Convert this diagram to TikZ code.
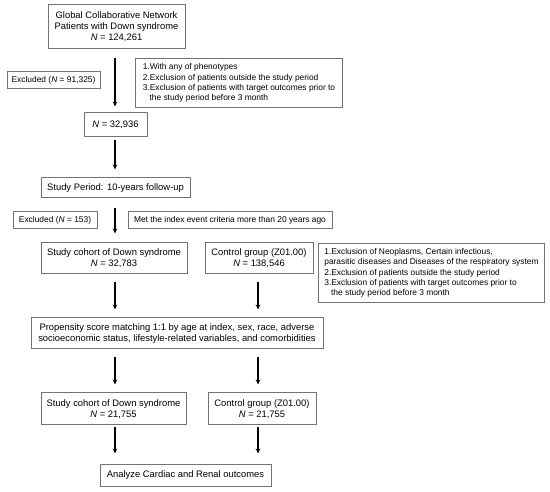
\documentclass[tikz,border=0pt]{standalone}
\usepackage{fontspec}
\setmainfont{Liberation Sans}
\usetikzlibrary{arrows.meta}
\tikzset{
  box/.style={draw=black!55, line width=1pt, inner sep=0pt, align=center,
    font=\fontsize{9.4}{11}\selectfont},
  sbox/.style={box, font=\fontsize{8.4}{10}\selectfont},
  lbox/.style={box, align=left, anchor=north west, inner xsep=3pt,
    font=\fontsize{8.4}{10.2}\selectfont},
  arr/.style={line width=1.5pt, -{Stealth[length=5pt,width=4.5pt]}}
}
\begin{document}
\begin{tikzpicture}[x=1pt,y=-1pt]
\useasboundingbox (0,0) rectangle (550,492);
\coordinate (colL) at (115,0);
\coordinate (colR) at (258,0);
\node[box, minimum width=137pt, minimum height=44pt] (g) at (116.5,27) {Global Collaborative Network\\Patients with Down syndrome\\\textit{N} = 124,261};
\node[sbox, minimum width=93pt, minimum height=17pt] (ex1) at (53.5,80.5) {Excluded (\textit{N} = 91,325)};
\node[lbox, minimum width=207pt, minimum height=49pt] (c1) at (135,58) {1.With any of phenotypes\\2.Exclusion of patients outside the study period\\3.Exclusion of patients with target outcomes prior to\\\hspace*{0.8em}the study period before 3 month};
\node[box, minimum width=63pt, minimum height=24pt] (n2) at (115.5,125) {\textit{N} = 32,936};
\node[box, minimum width=149pt, minimum height=20pt] (sp) at (115.5,188) {Study Period: 10-years follow-up};
\node[sbox, minimum width=84pt, minimum height=17pt] (ex2) at (55,220.5) {Excluded (\textit{N} = 153)};
\node[sbox, minimum width=204pt, minimum height=17pt] (met) at (230,220.5) {Met the index event criteria more than 20 years ago};
\node[box, minimum width=146pt, minimum height=31pt] (sc1) at (114,258.5) {Study cohort of Down syndrome\\\textit{N} = 32,783};
\node[box, minimum width=108pt, minimum height=31pt] (cg1) at (259,258.5) {Control group (Z01.00)\\\textit{N} = 138,546};
\node[lbox, minimum width=226pt, minimum height=59pt, inner xsep=5pt] (c2) at (318,243) {1.Exclusion of Neoplasms, Certain infectious,\\parasitic diseases and Diseases of the respiratory system\\2.Exclusion of patients outside the study period\\3.Exclusion of patients with target outcomes prior to\\\hspace*{0.8em}the study period before 3 month};
\node[box, minimum width=292pt, minimum height=31pt] (ps) at (177,333.5) {Propensity score matching 1:1 by age at index, sex, race, adverse\\socioeconomic status, lifestyle-related variables, and comorbidities};
\node[box, minimum width=145pt, minimum height=32pt] (sc2) at (113.5,409) {Study cohort of Down syndrome\\\textit{N} = 21,755};
\node[box, minimum width=108pt, minimum height=32pt] (cg2) at (262,409) {Control group (Z01.00)\\\textit{N} = 21,755};
\node[box, minimum width=171pt, minimum height=21pt] (an) at (185.5,475.5) {Analyze Cardiac and Renal outcomes};
% arrows
\draw[arr] ([yshift=-9pt]g.south -| colL) -- ([yshift=6pt]n2.north -| colL);
\draw[arr] ([yshift=-3pt]n2.south -| colL) -- ([yshift=8pt]sp.north -| colL);
\draw[arr] ([yshift=-10pt]sp.south -| colL) -- ([yshift=9pt]sc1.north -| colL);
\draw[arr] ([yshift=-8pt]sc1.south -| colL) -- ([yshift=8pt]ps.north -| colL);
\draw[arr] ([yshift=-8pt]cg1.south -| colR) -- ([yshift=8pt]ps.north -| colR);
\draw[arr] ([yshift=-8pt]ps.south -| colL) -- ([yshift=8pt]sc2.north -| colL);
\draw[arr] ([yshift=-8pt]ps.south -| colR) -- ([yshift=8pt]cg2.north -| colR);
\draw[arr] ([yshift=-2pt]sc2.south -| colL) -- ([yshift=11pt]an.north -| colL);
\draw[arr] ([yshift=-2pt]cg2.south -| colR) -- ([yshift=11pt]an.north -| colR);
\end{tikzpicture}
\end{document}
